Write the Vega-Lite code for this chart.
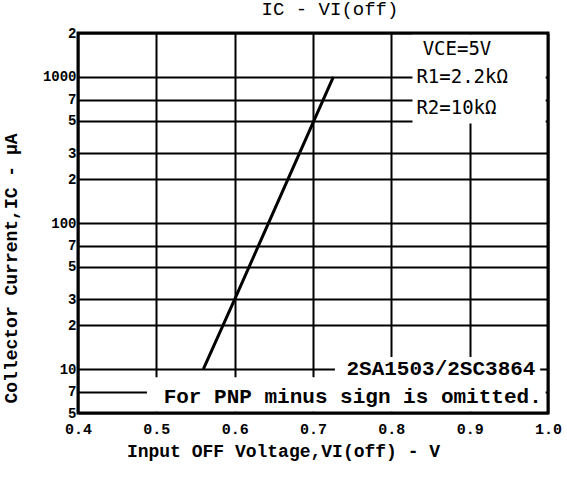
{
  "$schema": "https://vega.github.io/schema/vega-lite/v6.json",
  "width": 470,
  "height": 380,
  "autosize": {"type": "none"},
  "padding": {"left": 78, "top": 33, "right": 19, "bottom": 66},
  "background": "white",
  "title": {"text": "IC - VI(off)", "font": "Liberation Mono", "fontSize": 19, "fontWeight": "normal", "color": "black", "offset": 7, "dx": 17},
  "config": {
    "view": {"stroke": null},
    "axis": {
      "grid": true, "gridColor": "black", "gridWidth": 2, "gridOpacity": 1,
      "domain": false, "ticks": false,
      "labelFont": "Liberation Mono", "labelFontWeight": "bold", "labelColor": "black",
      "titleFont": "Liberation Mono", "titleFontWeight": "bold", "titleColor": "black", "titleFontSize": 18,
      "zindex": 0
    }
  },
  "data": {"values": [{}]},
  "datasets": {
    "curve": [
      {"v": 0.56, "ic": 10},
      {"v": 0.6, "ic": 30},
      {"v": 0.726, "ic": 1000}
    ]
  },
  "layer": [
    {
      "data": {"name": "curve"},
      "mark": {"type": "line", "color": "black", "strokeWidth": 3},
      "encoding": {
        "x": {"field": "v", "type": "quantitative",
          "scale": {"domain": [0.4, 1.0], "nice": false, "zero": false},
          "axis": {"values": [0.4, 0.5, 0.6, 0.7, 0.8, 0.9, 1.0], "format": ".1f", "labelFontSize": 15, "labelPadding": 8, "labelFlush": false,
            "title": "Input OFF Voltage,VI(off) - V", "titlePadding": 6, "titleX": 205}},
        "y": {"field": "ic", "type": "quantitative",
          "scale": {"type": "log", "domain": [5, 2000], "nice": false},
          "axis": {"values": [5, 7, 10, 20, 30, 50, 70, 100, 200, 300, 500, 700, 1000, 2000], "format": "d",
            "labelExpr": "datum.value == 1000 || datum.value == 100 || datum.value == 10 ? datum.label : slice(datum.label, 0, 1)",
            "labelFontSize": 14, "labelPadding": 2, "labelFlush": false,
            "title": "Collector Current,IC - μA", "titleY": 235, "titlePadding": 22}}
      }
    },
    {
      "mark": {"type": "rect", "fill": "white"},
      "encoding": {
        "x": {"datum": 0.827, "type": "quantitative"}, "x2": {"datum": 0.997},
        "y": {"datum": 480, "type": "quantitative"}, "y2": {"datum": 1950}
      }
    },
    {
      "mark": {"type": "rect", "fill": "white"},
      "encoding": {
        "x": {"datum": 0.728, "type": "quantitative"}, "x2": {"datum": 0.99},
        "y": {"datum": 8.2, "type": "quantitative"}, "y2": {"datum": 12.1}
      }
    },
    {
      "mark": {"type": "rect", "fill": "white"},
      "encoding": {
        "x": {"datum": 0.488, "type": "quantitative"}, "x2": {"datum": 0.997},
        "y": {"datum": 5.1, "type": "quantitative"}, "y2": {"datum": 8.8}
      }
    },
    {
      "mark": {"type": "text", "align": "left", "baseline": "middle", "font": "DejaVu Sans Mono", "fontSize": 19, "color": "black", "text": "VCE=5V"},
      "encoding": {"x": {"datum": 0.84, "type": "quantitative"}, "y": {"datum": 1550, "type": "quantitative"}}
    },
    {
      "mark": {"type": "text", "align": "left", "baseline": "middle", "font": "DejaVu Sans Mono", "fontSize": 19, "color": "black", "text": "R1=2.2kΩ"},
      "encoding": {"x": {"datum": 0.832, "type": "quantitative"}, "y": {"datum": 1000, "type": "quantitative"}}
    },
    {
      "mark": {"type": "text", "align": "left", "baseline": "middle", "font": "DejaVu Sans Mono", "fontSize": 19, "color": "black", "text": "R2=10kΩ"},
      "encoding": {"x": {"datum": 0.832, "type": "quantitative"}, "y": {"datum": 612, "type": "quantitative"}}
    },
    {
      "mark": {"type": "text", "align": "right", "baseline": "middle", "font": "Liberation Mono", "fontWeight": "bold", "fontSize": 21, "color": "black", "text": "2SA1503/2SC3864"},
      "encoding": {"x": {"datum": 0.984, "type": "quantitative"}, "y": {"datum": 10, "type": "quantitative"}}
    },
    {
      "mark": {"type": "text", "align": "right", "baseline": "middle", "font": "Liberation Mono", "fontWeight": "bold", "fontSize": 21, "color": "black", "text": "For PNP minus sign is omitted."},
      "encoding": {"x": {"datum": 0.992, "type": "quantitative"}, "y": {"datum": 6.4, "type": "quantitative"}}
    },
    {
      "mark": {"type": "rect", "fill": null, "stroke": "black", "strokeWidth": 3},
      "encoding": {
        "x": {"datum": 0.4, "type": "quantitative"}, "x2": {"datum": 1.0},
        "y": {"datum": 5, "type": "quantitative"}, "y2": {"datum": 2000}
      }
    }
  ]
}
